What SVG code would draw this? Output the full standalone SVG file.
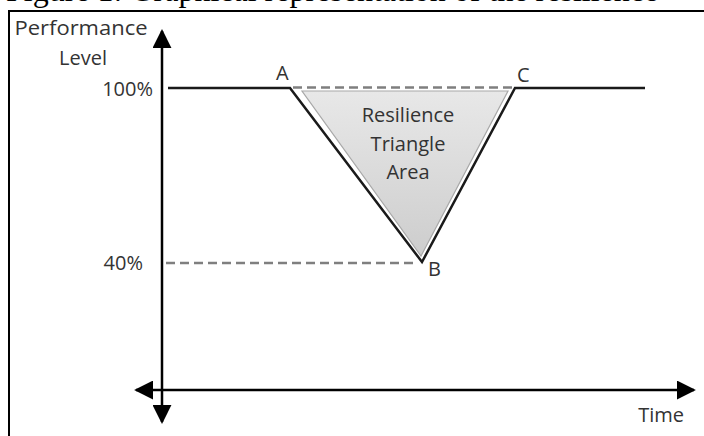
<svg xmlns="http://www.w3.org/2000/svg" width="704" height="436" viewBox="0 0 704 436">
  <style>
    .lbl { font-family: "Open Sans", "Liberation Sans", sans-serif; font-size: 20px; fill: #333; }
    .axis { stroke: #000; stroke-width: 2.5; fill: none; }
    .dash { stroke: #7f7f7f; stroke-width: 2.5; stroke-dasharray: 9 5; fill: none; }
    .perf { stroke: #1a1a1a; stroke-width: 2.5; fill: none; stroke-linejoin: miter; }
    .title { font-family: "Liberation Serif", "Times New Roman", serif; font-size: 32px; fill: #000; }
  </style>
  <defs>
    <linearGradient id="triFill" x1="0" y1="0" x2="0" y2="1">
      <stop offset="0" stop-color="#e8e8e8"/>
      <stop offset="1" stop-color="#cdcdcd"/>
    </linearGradient>
    <marker id="arrow" viewBox="0 0 10 10" refX="9" refY="5" markerWidth="7.6" markerHeight="7.6" markerUnits="strokeWidth" orient="auto-start-reverse">
      <path d="M0,0 L10,5 L0,10 Z" fill="#000"/>
    </marker>
  </defs>
  <rect width="704" height="436" fill="#fff"/>
  <text class="title" x="6" y="1">Figure 1: Graphical representation of the resilience</text>
  <rect x="9" y="11" width="720" height="450" fill="none" stroke="#000" stroke-width="2"/>

  <g id="connectors">
    <line id="y-axis" class="axis" x1="162" y1="422" x2="162" y2="31" marker-start="url(#arrow)" marker-end="url(#arrow)"/>
    <line id="x-axis" class="axis" x1="136" y1="390" x2="694" y2="390" marker-start="url(#arrow)" marker-end="url(#arrow)"/>
  </g>

  <g id="triangle-area">
    <polygon points="302,91 508,91 421,256" fill="url(#triFill)" stroke="#a8a8a8" stroke-width="1.2"/>
    <text class="lbl" x="408" y="122" text-anchor="middle">Resilience</text>
    <text class="lbl" x="408" y="151" text-anchor="middle">Triangle</text>
    <text class="lbl" x="408" y="179" text-anchor="middle">Area</text>
  </g>

  <g id="reference-lines">
    <line class="dash" x1="293" y1="87.5" x2="512" y2="87.5"/>
    <line class="dash" x1="166" y1="263" x2="418" y2="263"/>
  </g>

  <g id="performance-curve">
    <polyline class="perf" points="168,88 290,88 422,262 515,88 645,88"/>
  </g>

  <g id="label-A"><text class="lbl" x="276" y="80" font-size="18">A</text></g>
  <g id="label-B"><text class="lbl" x="428" y="276" font-size="18">B</text></g>
  <g id="label-C"><text class="lbl" x="517" y="82" font-size="18">C</text></g>

  <g id="y-label">
    <text class="lbl" x="81" y="35" text-anchor="middle" textLength="133" lengthAdjust="spacingAndGlyphs">Performance</text>
    <text class="lbl" x="83" y="65" text-anchor="middle">Level</text>
  </g>
  <g id="tick-100"><text class="lbl" x="153" y="96" text-anchor="end">100%</text></g>
  <g id="tick-40"><text class="lbl" x="143" y="270" text-anchor="end">40%</text></g>
  <g id="x-label"><text class="lbl" x="684" y="422" text-anchor="end">Time</text></g>
</svg>
